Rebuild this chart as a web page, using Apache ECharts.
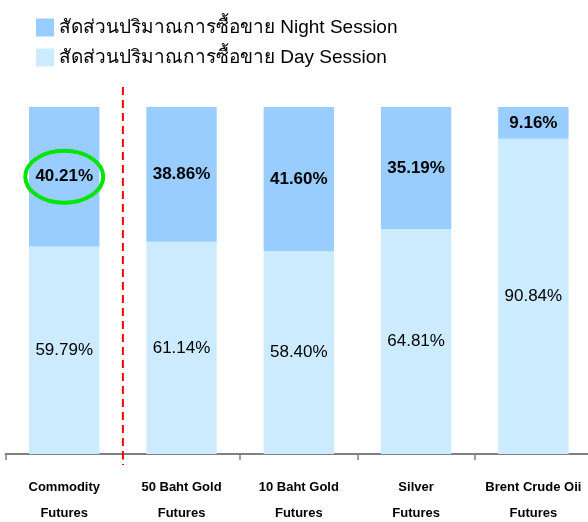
<!DOCTYPE html>
<html lang="th">
<head>
    <meta charset="UTF-8">
    <title>Night Session</title>
    <script src="https://cdn.jsdelivr.net/npm/echarts@6/dist/echarts.min.js"></script>
    <style>
        html, body { margin: 0; padding: 0; background: #fff; }
    </style>
</head>
<body>
    <div id="main" style="width: 588px;height:522px;"></div>
    <script>
        var categories = ['Commodity\nFutures', '50 Baht Gold\nFutures', '10 Baht Gold\nFutures', 'Silver\nFutures', 'Brent Crude Oii\nFutures'];
        var nightShare = [40.21, 38.86, 41.60, 35.19, 9.16];
        var dayShare = [59.79, 61.14, 58.40, 64.81, 90.84];
        var nightName = 'สัดส่วนปริมาณการซื้อขาย Night Session';
        var dayName = 'สัดส่วนปริมาณการซื้อขาย Day Session';

        var font = "'Liberation Sans', Arial, 'Noto Sans', sans-serif";
        var myChart = echarts.init(document.getElementById('main'));
        var option = {
            textStyle: { fontFamily: font },
            animation: false,
            legend: {
                data: [nightName, dayName],
                orient: 'vertical',
                left: 31,
                top: 13,
                itemWidth: 18,
                itemHeight: 18,
                itemGap: 11,
                icon: 'rect',
                textStyle: { fontSize: 19, color: '#000', fontFamily: font }
            },
            grid: { left: 5.6, right: -4, top: 107, bottom: 68, outerBoundsMode: 'none', containLabel: false },
            xAxis: {
                type: 'category',
                data: categories,
                axisLine: { lineStyle: { color: '#808080', width: 2 } },
                axisTick: { show: true, length: 6, lineStyle: { color: '#808080', width: 1.5 } },
                axisLabel: {
                    fontSize: 13, fontWeight: 'bold', color: '#000',
                    lineHeight: 26, margin: 20, interval: 0
                }
            },
            yAxis: { type: 'value', min: 0, max: 100, show: false, splitLine: { show: false } },
            series: [
                {
                    name: dayName,
                    type: 'bar',
                    stack: 'all',
                    barWidth: '60%',
                    data: dayShare,
                    itemStyle: { color: '#CCEBFF' },
                    label: {
                        show: true, position: 'inside', fontSize: 17, color: '#000',
                        formatter: p => p.value.toFixed(2) + '%'
                    }
                },
                {
                    name: nightName,
                    type: 'bar',
                    stack: 'all',
                    barWidth: '60%',
                    data: nightShare,
                    itemStyle: { color: '#99CCFF' },
                    label: {
                        show: true, position: 'inside', fontSize: 17, fontWeight: 'bold', color: '#000',
                        formatter: p => p.value.toFixed(2) + '%'
                    }
                }
            ]
        };
        myChart.setOption(option);

        // dashed divider between first and second category, plus highlight ellipse
        var topPt = myChart.convertToPixel({ gridIndex: 0 }, [0, 100]);
        var basePt = myChart.convertToPixel({ gridIndex: 0 }, [0, 0]);
        var c0 = myChart.convertToPixel({ xAxisIndex: 0 }, 0);
        var c1 = myChart.convertToPixel({ xAxisIndex: 0 }, 1);
        var divX = (c0 + c1) / 2;
        var midY = myChart.convertToPixel({ yAxisIndex: 0 }, dayShare[0] + nightShare[0] / 2);
        myChart.setOption({
            graphic: [
                {
                    type: 'line',
                    shape: { x1: divX, y1: topPt[1] - 20, x2: divX, y2: basePt[1] + 11 },
                    style: { stroke: '#FF0000', lineWidth: 2, lineDash: [8, 5] },
                    z: 10
                },
                {
                    type: 'ellipse',
                    shape: { cx: c0, cy: midY, rx: 39, ry: 26 },
                    style: { fill: 'none', stroke: '#00E600', lineWidth: 4 },
                    z: 10
                }
            ]
        });
    </script>
</body>
</html>
